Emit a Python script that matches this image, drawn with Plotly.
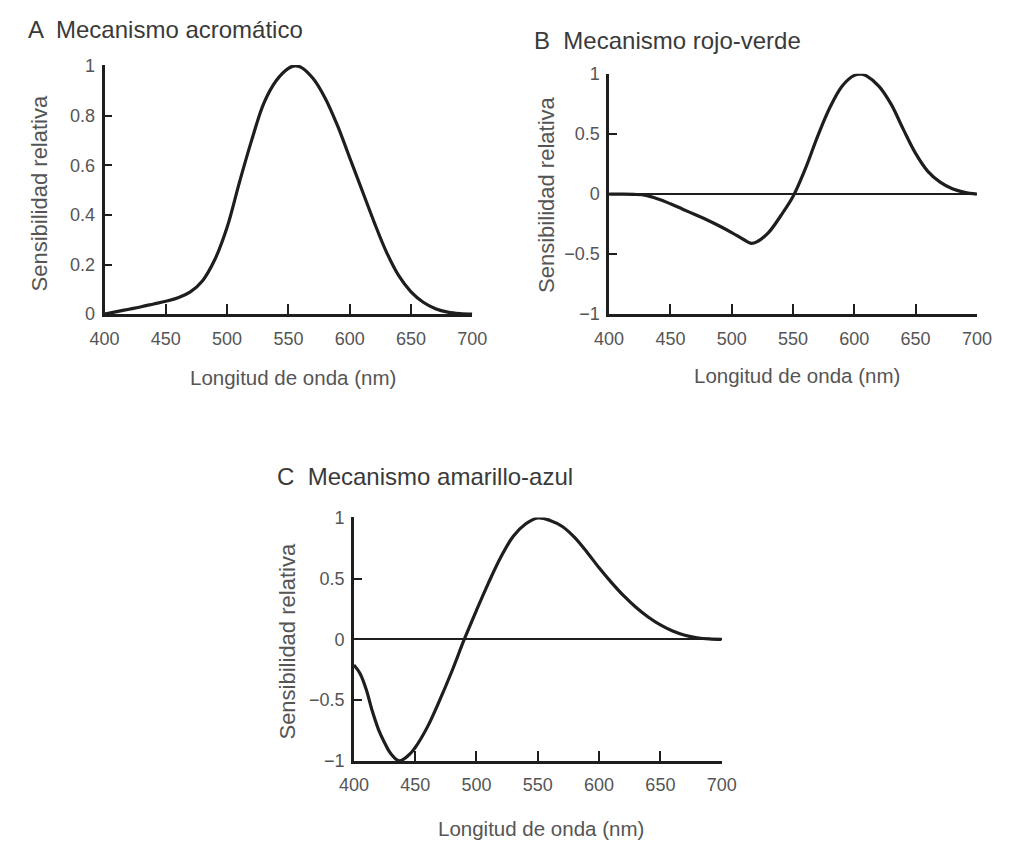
import plotly.graph_objects as go

# ---- data ----
wl_a = [400, 410, 420, 430, 440, 450, 460, 470, 480, 490, 500, 510, 520, 530, 540, 550,
        555, 560, 570, 580, 590, 600, 610, 620, 630, 640, 650, 660, 670, 680, 690, 700]
sens_a = [0.0, 0.01, 0.02, 0.03, 0.041, 0.052, 0.066, 0.09, 0.135, 0.22, 0.35, 0.53, 0.70,
          0.85, 0.94, 0.99, 1.0, 0.995, 0.95, 0.87, 0.76, 0.63, 0.50, 0.37, 0.25, 0.155,
          0.09, 0.048, 0.022, 0.008, 0.002, 0.0]

wl_b = [400, 410, 420, 430, 440, 450, 460, 470, 480, 490, 500, 510, 516, 520, 530, 540,
        550, 560, 570, 580, 590, 600, 606, 610, 620, 630, 640, 650, 660, 670, 680, 690, 700]
sens_b = [0.0, 0.0, -0.002, -0.01, -0.04, -0.08, -0.125, -0.17, -0.215, -0.265, -0.32, -0.38,
          -0.41, -0.40, -0.32, -0.18, -0.02, 0.21, 0.48, 0.72, 0.90, 0.99, 1.0, 0.985, 0.90,
          0.75, 0.54, 0.34, 0.19, 0.10, 0.045, 0.015, 0.0]

wl_c = [400, 405, 410, 415, 420, 425, 430, 437, 445, 450, 460, 470, 480, 490, 500, 510, 520,
        530, 540, 550, 560, 570, 580, 590, 600, 610, 620, 630, 640, 650, 660, 670, 680, 690, 700]
sens_c = [-0.21, -0.28, -0.41, -0.59, -0.74, -0.85, -0.94, -1.0, -0.95, -0.89, -0.72, -0.50,
          -0.26, 0.0, 0.24, 0.47, 0.68, 0.85, 0.95, 1.0, 0.98, 0.93, 0.84, 0.72, 0.59, 0.47,
          0.36, 0.265, 0.185, 0.12, 0.07, 0.035, 0.014, 0.004, 0.0]

x_ticks = [400, 450, 500, 550, 600, 650, 700]
y_ticks_a = [0, 0.2, 0.4, 0.6, 0.8, 1]
y_text_a = ["0", "0.2", "0.4", "0.6", "0.8", "1"]
y_ticks_bc = [-1, -0.5, 0, 0.5, 1]
y_text_bc = ["\u22121", "\u22120.5", "0", "0.5", "1"]

panel_titles = ["A  Mecanismo acromático", "B  Mecanismo rojo-verde", "C  Mecanismo amarillo-azul"]
y_title = "Sensibilidad relativa"
x_title = "Longitud de onda (nm)"

# ---- layout helpers (page body has an 8px margin) ----
OFF = 8
W, H = 1021 - OFF, 853 - OFF
def px_x(p):
    return (p - OFF) / W
def px_y(p):
    return 1 - (p - OFF) / H

TEXT = "#555555"
LINE = "#1e1e1e"
FONT = "Liberation Sans"

fig = go.Figure()
for i, (wl, s) in enumerate([(wl_a, sens_a), (wl_b, sens_b), (wl_c, sens_c)]):
    sfx = "" if i == 0 else str(i + 1)
    fig.add_trace(go.Scatter(x=wl, y=s, mode="lines",
                             line=dict(color=LINE, width=3.2, shape="spline", smoothing=1.0),
                             xaxis="x" + sfx, yaxis="y" + sfx, showlegend=False, hoverinfo="skip"))

# pixel boxes in screenshot coords: (x0, x1, y_top, y_bottom)
boxes = [(92, 471, 57, 312), (612, 991, 66, 312), (349, 728, 520, 769)]
zero_w = [0, 2.2, 1.6]

def xaxis_def(box, anchor):
    return dict(domain=[px_x(box[0]), px_x(box[1])], range=[400, 700], anchor=anchor,
                tickvals=x_ticks, ticks="inside", ticklen=10, tickwidth=2.2, tickcolor=LINE,
                showline=True, linecolor=LINE, linewidth=2.6, showgrid=False, zeroline=False,
                ticklabelstandoff=6,
                tickfont=dict(family=FONT, size=18, color=TEXT), fixedrange=True)

def yaxis_def(box, anchor, vals, text, zw):
    return dict(domain=[px_y(box[3]), px_y(box[2])], range=[vals[0], vals[-1] * 1.004], anchor=anchor,
                tickvals=vals, ticktext=text, ticks="inside", ticklen=8, tickwidth=2.2, tickcolor=LINE,
                showline=True, linecolor=LINE, linewidth=2.6, showgrid=False,
                zeroline=zw > 0, zerolinecolor=LINE, zerolinewidth=max(zw, 1),
                ticklabelstandoff=3,
                tickfont=dict(family=FONT, size=18, color=TEXT), fixedrange=True)

fig.update_layout(
    width=W, height=H, margin=dict(l=0, r=0, t=0, b=0),
    paper_bgcolor="white", plot_bgcolor="rgba(0,0,0,0)",
    xaxis=xaxis_def(boxes[0], "y"),
    yaxis=yaxis_def(boxes[0], "x", y_ticks_a, y_text_a, zero_w[0]),
    xaxis2=xaxis_def(boxes[1], "y2"),
    yaxis2=yaxis_def(boxes[1], "x2", y_ticks_bc, y_text_bc, zero_w[1]),
    xaxis3=xaxis_def(boxes[2], "y3"),
    yaxis3=yaxis_def(boxes[2], "x3", y_ticks_bc, y_text_bc, zero_w[2]),
)

# panel titles
title_pos = [(11, 21), (533, 32), (268, 478)]
for t, (x, y) in zip(panel_titles, title_pos):
    fig.add_annotation(text=t, x=px_x(x), y=px_y(y), xref="paper", yref="paper",
                       xanchor="left", yanchor="middle", showarrow=False,
                       font=dict(family=FONT, size=24, color="#3a3a3a"))

# y titles
ytitle_pos = [(25, 188), (548, 190), (281, 647)]
for x, y in ytitle_pos:
    fig.add_annotation(text=y_title, x=px_x(x), y=px_y(y), xref="paper", yref="paper",
                       xanchor="center", yanchor="middle", textangle=-90, showarrow=False,
                       font=dict(family=FONT, size=22, color=TEXT))

# x titles
xtitle_pos = [(286, 377), (806, 375), (542, 838)]
for x, y in xtitle_pos:
    fig.add_annotation(text=x_title, x=px_x(x), y=px_y(y), xref="paper", yref="paper",
                       xanchor="center", yanchor="middle", showarrow=False,
                       font=dict(family=FONT, size=20.5, color=TEXT))

fig.write_html("out.html")
